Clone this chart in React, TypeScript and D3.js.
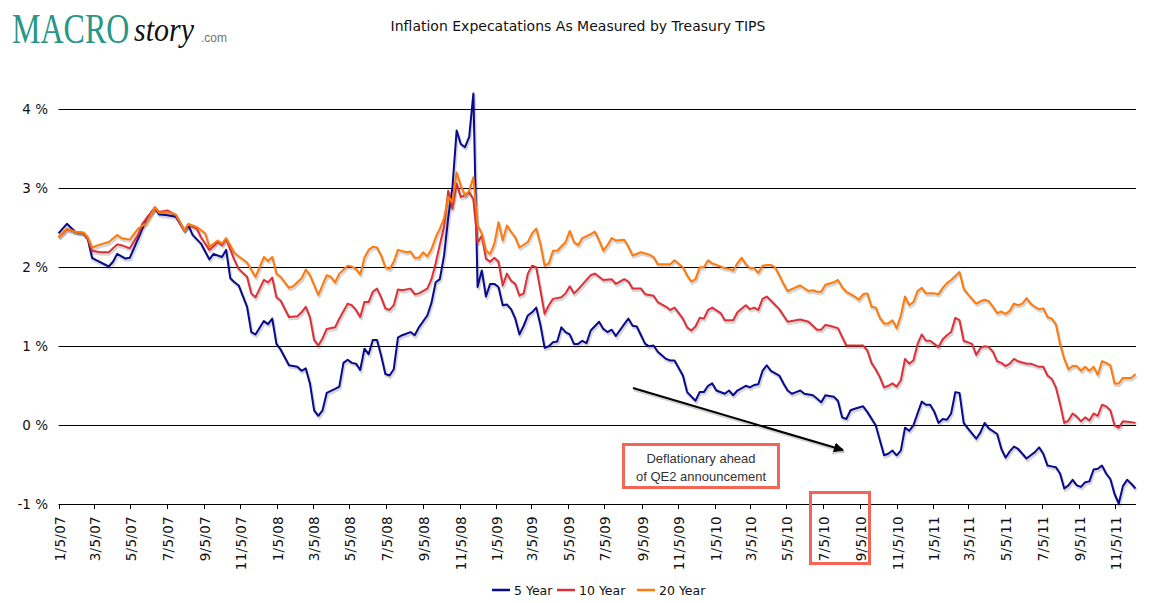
import React from "react";
import * as d3 from "d3";

const W = 1156;
const H = 603;

const title = "Inflation Expecatations As Measured by Treasury TIPS";
const startDate = new Date(2007, 0, 5);
const lastWeek = 257;

// Weekly observations: [weeks since 1/5/07, percent]
const fiveYear: [number, number][] = [
[0,2.42],[2,2.54],[4,2.44],[6,2.42],[7,2.35],[8,2.11],[9,2.08],[12,2.00],[13,2.06],[14,2.16],[16,2.10],[17,2.11],[18,2.23],[20,2.48],[21,2.61],[23,2.74],[24,2.66],[26,2.65],[28,2.63],[30,2.46],[31,2.52],[32,2.40],[34,2.29],[36,2.09],[37,2.16],[39,2.12],[40,2.21],[41,1.85],[42,1.80],[43,1.76],[45,1.49],[46,1.17],[47,1.14],[49,1.31],[50,1.27],[51,1.34],[52,1.02],[53,0.95],[55,0.75],[57,0.73],[58,0.68],[59,0.71],[60,0.52],[61,0.18],[62,0.11],[63,0.18],[64,0.40],[66,0.45],[67,0.48],[68,0.78],[69,0.82],[70,0.78],[71,0.77],[72,0.69],[73,0.96],[74,0.89],[75,1.07],[76,1.07],[77,0.87],[78,0.64],[79,0.62],[80,0.70],[81,1.10],[82,1.13],[84,1.17],[85,1.13],[86,1.23],[88,1.38],[89,1.54],[90,1.80],[91,1.84],[92,2.14],[93,2.62],[94,3.0],[95,3.72],[96,3.55],[97,3.51],[98,3.64],[99,4.19],[100,1.74],[101,1.95],[102,1.62],[103,1.78],[104,1.78],[105,1.74],[106,1.51],[107,1.52],[108,1.46],[109,1.34],[110,1.14],[111,1.25],[112,1.38],[113,1.42],[114,1.48],[115,1.26],[116,0.97],[117,0.99],[118,1.04],[119,1.05],[120,1.23],[121,1.17],[122,1.14],[123,1.02],[124,1.02],[125,1.06],[126,1.03],[127,1.19],[129,1.30],[130,1.21],[131,1.17],[132,1.20],[133,1.12],[135,1.27],[136,1.34],[137,1.25],[138,1.24],[139,1.13],[140,1.02],[141,0.99],[142,1.00],[143,0.92],[145,0.83],[146,0.81],[147,0.81],[149,0.62],[150,0.41],[152,0.30],[153,0.41],[154,0.41],[155,0.49],[156,0.52],[157,0.43],[159,0.39],[160,0.43],[161,0.37],[162,0.43],[164,0.49],[165,0.47],[166,0.50],[167,0.51],[168,0.68],[169,0.75],[170,0.68],[172,0.62],[173,0.52],[174,0.43],[175,0.39],[176,0.41],[177,0.43],[178,0.39],[180,0.37],[181,0.33],[182,0.28],[183,0.37],[185,0.35],[186,0.30],[187,0.09],[188,0.07],[189,0.18],[190,0.20],[192,0.23],[193,0.16],[195,-0.01],[196,-0.20],[197,-0.39],[198,-0.37],[199,-0.33],[200,-0.39],[201,-0.33],[202,-0.04],[203,-0.08],[204,-0.01],[205,0.14],[206,0.29],[207,0.25],[208,0.25],[209,0.16],[210,0.02],[211,0.07],[212,0.06],[213,0.14],[214,0.41],[215,0.40],[216,0.02],[217,-0.05],[219,-0.18],[220,-0.10],[221,0.02],[222,-0.05],[224,-0.12],[225,-0.31],[226,-0.42],[227,-0.34],[228,-0.28],[229,-0.31],[231,-0.43],[232,-0.39],[233,-0.35],[234,-0.29],[235,-0.37],[236,-0.52],[237,-0.53],[238,-0.54],[239,-0.62],[240,-0.81],[241,-0.77],[242,-0.70],[243,-0.77],[244,-0.79],[245,-0.73],[246,-0.72],[247,-0.57],[248,-0.56],[249,-0.52],[250,-0.62],[251,-0.69],[252,-0.88],[253,-1.00],[254,-0.78],[255,-0.70],[256,-0.75],[257,-0.81]
];

const tenYear: [number, number][] = [
[0,2.37],[2,2.47],[4,2.44],[6,2.42],[7,2.35],[8,2.20],[10,2.18],[12,2.18],[14,2.28],[15,2.27],[17,2.23],[19,2.40],[20,2.54],[21,2.61],[23,2.75],[24,2.69],[26,2.71],[28,2.65],[30,2.46],[31,2.53],[33,2.48],[34,2.37],[36,2.21],[38,2.31],[39,2.27],[40,2.35],[42,2.08],[43,1.97],[45,1.87],[46,1.66],[47,1.61],[49,1.83],[50,1.80],[51,1.86],[52,1.61],[53,1.57],[55,1.36],[57,1.37],[58,1.42],[59,1.49],[60,1.36],[61,1.07],[62,1.00],[63,1.09],[64,1.21],[66,1.23],[67,1.34],[69,1.53],[70,1.51],[71,1.45],[72,1.36],[73,1.55],[74,1.55],[75,1.68],[76,1.72],[77,1.61],[78,1.47],[79,1.45],[80,1.51],[81,1.71],[82,1.70],[84,1.72],[85,1.65],[86,1.66],[88,1.72],[89,1.84],[90,2.04],[91,2.28],[92,2.5],[93,2.96],[94,2.73],[95,3.05],[96,2.88],[97,2.90],[98,2.94],[99,2.85],[100,2.30],[101,2.39],[102,2.10],[103,2.06],[104,2.11],[105,2.06],[106,1.76],[107,1.91],[108,1.82],[109,1.78],[110,1.63],[111,1.66],[112,1.91],[113,2.01],[114,1.99],[115,1.70],[116,1.40],[117,1.51],[118,1.59],[120,1.61],[121,1.66],[122,1.75],[123,1.66],[124,1.71],[125,1.77],[127,1.89],[128,1.91],[129,1.87],[130,1.83],[132,1.84],[133,1.78],[135,1.84],[136,1.81],[137,1.72],[139,1.72],[140,1.65],[142,1.63],[143,1.55],[145,1.49],[146,1.45],[147,1.48],[149,1.34],[150,1.23],[151,1.19],[152,1.24],[153,1.35],[154,1.34],[155,1.45],[156,1.48],[158,1.41],[159,1.32],[161,1.32],[162,1.42],[164,1.51],[165,1.46],[166,1.48],[167,1.45],[168,1.59],[169,1.62],[170,1.57],[172,1.46],[173,1.38],[174,1.30],[176,1.32],[177,1.33],[179,1.30],[180,1.25],[181,1.20],[182,1.20],[183,1.26],[184,1.25],[186,1.22],[187,1.11],[188,1.00],[192,1.00],[193,0.94],[194,0.78],[195,0.70],[196,0.60],[197,0.47],[198,0.49],[199,0.52],[200,0.48],[201,0.56],[202,0.83],[203,0.77],[204,0.81],[205,1.02],[206,1.14],[207,1.06],[208,1.06],[209,1.02],[210,0.98],[211,1.08],[212,1.13],[213,1.17],[214,1.35],[215,1.32],[216,1.06],[218,1.02],[219,0.88],[220,0.97],[221,0.99],[222,0.98],[223,0.92],[224,0.80],[225,0.78],[226,0.74],[227,0.77],[228,0.83],[229,0.80],[231,0.77],[232,0.77],[234,0.73],[235,0.73],[236,0.62],[237,0.58],[238,0.47],[239,0.26],[240,0.02],[241,0.05],[242,0.14],[243,0.10],[244,0.04],[245,0.09],[246,0.05],[247,0.14],[248,0.11],[249,0.25],[250,0.23],[251,0.18],[252,-0.01],[253,-0.04],[254,0.04],[256,0.03],[257,0.02]
];

const twentyYear: [number, number][] = [
[0,2.37],[2,2.48],[4,2.44],[6,2.43],[7,2.37],[8,2.24],[10,2.28],[12,2.31],[14,2.40],[15,2.36],[17,2.34],[19,2.48],[21,2.55],[23,2.75],[24,2.68],[26,2.69],[28,2.66],[30,2.46],[31,2.54],[33,2.50],[35,2.42],[36,2.25],[38,2.33],[39,2.29],[40,2.36],[42,2.17],[43,2.13],[45,2.05],[47,1.87],[49,2.12],[50,2.07],[51,2.12],[52,1.91],[53,1.87],[55,1.73],[56,1.75],[58,1.85],[59,1.96],[60,1.89],[62,1.64],[64,1.89],[65,1.87],[66,1.80],[67,1.91],[69,2.01],[70,2.00],[71,1.97],[72,1.90],[73,2.11],[74,2.21],[75,2.25],[76,2.24],[77,2.14],[78,1.99],[79,1.97],[80,2.06],[81,2.21],[83,2.18],[84,2.19],[85,2.11],[86,2.11],[87,2.18],[88,2.13],[89,2.22],[90,2.37],[91,2.48],[92,2.61],[93,2.88],[94,2.82],[95,3.19],[96,3.02],[97,2.90],[98,2.96],[99,3.13],[100,2.52],[101,2.42],[102,2.20],[103,2.16],[104,2.29],[105,2.56],[106,2.33],[107,2.52],[108,2.44],[109,2.37],[110,2.24],[112,2.31],[113,2.42],[114,2.48],[115,2.28],[116,2.01],[117,2.04],[118,2.20],[119,2.20],[121,2.31],[122,2.45],[123,2.31],[124,2.27],[125,2.36],[127,2.41],[128,2.44],[129,2.33],[130,2.20],[131,2.27],[132,2.36],[133,2.33],[135,2.34],[136,2.25],[137,2.14],[139,2.18],[141,2.15],[142,2.12],[143,2.03],[145,2.03],[146,2.03],[147,2.08],[149,1.99],[150,1.89],[151,1.81],[152,1.84],[153,1.99],[154,1.99],[155,2.08],[156,2.04],[158,2.00],[159,1.98],[160,1.97],[161,1.95],[162,2.04],[163,2.11],[164,2.03],[165,1.98],[166,1.98],[167,1.92],[168,2.01],[169,2.02],[170,2.02],[171,1.99],[172,1.89],[173,1.78],[174,1.69],[176,1.74],[177,1.76],[179,1.69],[180,1.70],[181,1.68],[182,1.68],[183,1.77],[185,1.80],[186,1.83],[187,1.74],[188,1.68],[189,1.65],[190,1.62],[191,1.58],[192,1.65],[193,1.66],[194,1.49],[195,1.48],[196,1.35],[197,1.28],[198,1.28],[199,1.32],[200,1.22],[201,1.38],[202,1.62],[203,1.51],[204,1.55],[205,1.69],[206,1.73],[207,1.66],[209,1.66],[210,1.65],[211,1.73],[212,1.79],[213,1.83],[214,1.88],[215,1.93],[216,1.72],[217,1.65],[219,1.53],[220,1.56],[221,1.58],[222,1.56],[223,1.49],[224,1.41],[225,1.43],[226,1.40],[227,1.44],[228,1.53],[229,1.51],[230,1.53],[231,1.60],[232,1.53],[233,1.49],[234,1.46],[235,1.47],[236,1.36],[237,1.34],[238,1.27],[239,1.02],[240,0.83],[241,0.70],[242,0.74],[243,0.74],[244,0.68],[245,0.73],[246,0.68],[247,0.73],[248,0.63],[249,0.80],[250,0.78],[251,0.75],[252,0.52],[253,0.52],[254,0.59],[256,0.59],[257,0.64]
];

const seriesNames = ["5 Year", "10 Year", "20 Year"];
const seriesColors = ["#0a0a8c", "#dd3038", "#ff7a0a"];
const seriesData = [fiveYear, tenYear, twentyYear];

const yTicks = [-1, 0, 1, 2, 3, 4];
const xTickLabels = [
  "1/5/07","3/5/07","5/5/07","7/5/07","9/5/07","11/5/07",
  "1/5/08","3/5/08","5/5/08","7/5/08","9/5/08","11/5/08",
  "1/5/09","3/5/09","5/5/09","7/5/09","9/5/09","11/5/09",
  "1/5/10","3/5/10","5/5/10","7/5/10","9/5/10","11/5/10",
  "1/5/11","3/5/11","5/5/11","7/5/11","9/5/11","11/5/11",
];

const FONT = "'DejaVu Sans', Verdana, sans-serif";

export default function App() {
  const parse = d3.timeParse("%m/%d/%y");
  const weekDate = (w: number) => d3.timeDay.offset(startDate, w * 7);
  const x = d3.scaleTime().domain([startDate, weekDate(lastWeek)]).range([58.5, 1135.5]);
  const y = d3.scaleLinear().domain([-1, 4]).range([503.5, 108.5]);
  const line = d3
    .line<[number, number]>()
    .x((d) => x(weekDate(d[0])))
    .y((d) => y(d[1]));

  const x0 = 58.5;
  const x1 = 1136;

  return (
    <svg
      width={W}
      height={H}
      style={{ position: "absolute", left: 0, top: 0, background: "#fff" }}
      xmlns="http://www.w3.org/2000/svg"
    >
      <defs>
        <marker id="arrowHead" viewBox="0 0 10 10" refX="9" refY="5" markerWidth="5" markerHeight="5" orient="auto">
          <path d="M0,0 L10,5 L0,10 z" fill="#000" />
        </marker>
        <marker id="arrowHeadShadow" viewBox="0 0 10 10" refX="9" refY="5" markerWidth="5" markerHeight="5" orient="auto">
          <path d="M0,0 L10,5 L0,10 z" fill="rgba(0,0,0,0.18)" />
        </marker>
      </defs>
      <rect width={W} height={H} fill="#fff" />

      {/* Logo */}
      <g>
        <text transform="translate(12,43) scale(1,1.3)" fontFamily="'Liberation Serif', 'Times New Roman', serif" fontSize={32} fill="#2a9686">
          MACRO
        </text>
        <text transform="translate(134,41) scale(1,1.12)" fontFamily="'Liberation Serif', serif" fontStyle="italic" fontSize={30} fill="#111">
          story
        </text>
        <text x={201} y={42} fontFamily="'Liberation Sans', Arial, sans-serif" fontSize={12} fill="#6f6f6f">
          .com
        </text>
      </g>

      {/* Title */}
      <text x={578} y={31} textAnchor="middle" fontFamily={FONT} fontSize={14} fill="#111">
        {title}
      </text>

      {/* Gridlines and y labels */}
      {yTicks.map((t) => (
        <g key={t}>
          <line x1={x0} x2={x1} y1={Math.round(y(t)) + 0.5} y2={Math.round(y(t)) + 0.5} stroke="#000" strokeWidth={1} />
          <text x={48} y={y(t) + 5} textAnchor="end" fontFamily={FONT} fontSize={13.5} fill="#111">
            {`${t} %`}
          </text>
        </g>
      ))}

      {/* X ticks and labels */}
      {xTickLabels.map((lab) => {
        const d = parse(lab) as Date;
        const px = Math.round(x(d)) + 0.5;
        return (
          <g key={lab}>
            <line x1={px} x2={px} y1={504} y2={509} stroke="#000" strokeWidth={1} />
            <text
              transform={`translate(${px + 5},${516}) rotate(-90)`}
              textAnchor="end"
              fontFamily={FONT}
              fontSize={13.5}
              letterSpacing={0.3}
              fill="#111"
            >
              {lab}
            </text>
          </g>
        );
      })}

      {/* Series shadows */}
      {seriesData.map((s, i) => (
        <path
          key={"sh" + i}
          d={line(s) || ""}
          transform="translate(1,2)"
          fill="none"
          stroke="rgba(0,0,0,0.16)"
          strokeWidth={3}
          strokeLinejoin="round"
        />
      ))}
      {/* Series lines */}
      {seriesData.map((s, i) => (
        <path
          key={"ln" + i}
          d={line(s) || ""}
          fill="none"
          stroke={seriesColors[i]}
          strokeWidth={2}
          strokeLinejoin="round"
        />
      ))}

      {/* Annotation arrow */}
      <line x1={634} y1={390} x2={844} y2={452} stroke="rgba(0,0,0,0.18)" strokeWidth={2.5} markerEnd="url(#arrowHeadShadow)" />
      <line x1={633} y1={388} x2={843} y2={450} stroke="#000" strokeWidth={2} markerEnd="url(#arrowHead)" />

      {/* Annotation box */}
      <rect x={623.5} y={444.5} width={155} height={43} fill="#fff" stroke="#f26657" strokeWidth={3} />
      <text x={701} y={463} textAnchor="middle" fontFamily="'Liberation Sans', Arial, sans-serif" fontSize={13} fill="#333">
        Deflationary ahead
      </text>
      <text x={701} y={481} textAnchor="middle" fontFamily="'Liberation Sans', Arial, sans-serif" fontSize={13} fill="#333">
        of QE2 announcement
      </text>

      {/* Highlight box around 7/5/10 - 9/5/10 */}
      <rect x={810.5} y={492.5} width={59} height={71} fill="none" stroke="#f26657" strokeWidth={3} />

      {/* Legend */}
      {seriesNames.map((n, i) => {
        const lx = [492, 557, 637][i];
        return (
          <g key={n}>
            <line x1={lx} x2={lx + 18} y1={590} y2={590} stroke={seriesColors[i]} strokeWidth={2.5} />
            <text x={lx + 22} y={594.5} fontFamily={FONT} fontSize={12.5} fill="#111">
              {n}
            </text>
          </g>
        );
      })}
    </svg>
  );
}
